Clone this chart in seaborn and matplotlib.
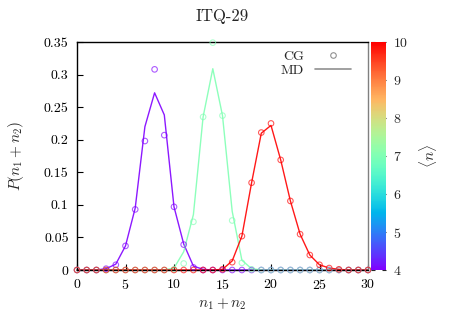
# Cluster size distribution for ITQ-29, CG points vs MD lines
import matplotlib

matplotlib.use("Agg", force=True)

import matplotlib.pyplot as plt
import seaborn as sns
import pandas as pd
import numpy as np
from matplotlib.lines import Line2D
from matplotlib.ticker import FuncFormatter

# data
n_sum = list(range(31))
mean_n = [4, 7, 10]

cg_4 = [0, 0, 0, 0.002, 0.008, 0.037, 0.093, 0.198, 0.308, 0.207, 0.097,
        0.039, 0.004] + [0] * 18
md_4 = [0, 0, 0, 0.002, 0.009, 0.037, 0.095, 0.220, 0.272, 0.238, 0.097,
        0.040, 0.006, 0.001] + [0] * 17

cg_7 = [0] * 10 + [0.001, 0.010, 0.074, 0.235, 0.349, 0.237, 0.076, 0.011,
                   0.001] + [0] * 12
md_7 = [0] * 10 + [0.003, 0.028, 0.085, 0.235, 0.309, 0.237, 0.090, 0.015,
                   0.002] + [0] * 12

cg_10 = [0] * 15 + [0.001, 0.012, 0.052, 0.134, 0.211, 0.225, 0.169, 0.106,
                    0.055, 0.023, 0.008, 0.003, 0.001, 0, 0, 0]
md_10 = [0] * 15 + [0.001, 0.014, 0.052, 0.134, 0.210, 0.222, 0.169, 0.106,
                    0.055, 0.023, 0.008, 0.003, 0.001, 0, 0, 0]


def long_form(series):
    frames = []
    for m, vals in zip(mean_n, series):
        frames.append(pd.DataFrame({"n": n_sum, "P": vals, "mean": m}))
    return pd.concat(frames, ignore_index=True)


cg = long_form([cg_4, cg_7, cg_10])
md = long_form([md_4, md_7, md_10])

sns.set_style("ticks")
plt.rcParams["font.family"] = "serif"
plt.rcParams["font.serif"] = ["cmr10"]
plt.rcParams["mathtext.fontset"] = "cm"
plt.rcParams["axes.formatter.use_mathtext"] = True
plt.rcParams["font.size"] = 10

fig = plt.figure(figsize=(4.5, 3.15), dpi=100)
ax = fig.add_axes([77 / 450, 45 / 315, 291 / 450, 228 / 315])

# MD as lines, CG as open circles, coloured by <n>
sns.lineplot(data=md, x="n", y="P", hue="mean", palette="rainbow",
             hue_norm=(4, 10), legend=False, lw=1.0, alpha=0.9, ax=ax,
             clip_on=False)
sns.scatterplot(data=cg, x="n", y="P", hue="mean", palette="rainbow",
                hue_norm=(4, 10), legend=False, s=16, marker="o", ax=ax,
                clip_on=False, zorder=3)
pts = ax.collections[-1]
fc = pts.get_facecolors()
fc[:, 3] = 0.65
pts.set_edgecolors(fc)
pts.set_facecolors("none")
pts.set_linewidths(0.8)

ax.set_xlim(0, 30)
ax.set_ylim(0, 0.35)
ax.set_xticks(range(0, 31, 5))
ax.set_yticks(np.arange(0, 0.351, 0.05))
ax.yaxis.set_major_formatter(FuncFormatter(lambda v, p: f"{v:g}"))
ax.tick_params(direction="in", length=4, width=0.8, top=False, right=False,
               colors="black", labelsize=10, pad=6)
for s in ["left", "top", "bottom"]:
    ax.spines[s].set_color("black")
    ax.spines[s].set_linewidth(1.0)
ax.spines["right"].set_color("#808080")
ax.spines["right"].set_linewidth(1.0)

ax.set_xlabel("$n_1+n_2$", fontsize=11, labelpad=3)
ax.set_ylabel("$P(n_1+n_2)$", fontsize=11, labelpad=13)
ax.set_title("ITQ-29", pad=15)

handles = [
    Line2D([], [], marker="o", ls="none", markerfacecolor="none",
           markeredgecolor="#909090", markersize=4, markeredgewidth=0.8),
    Line2D([], [], color="#909090", lw=1.2),
]
ax.legend(handles, ["CG", "MD"], loc="upper right", frameon=False,
          markerfirst=False, handlelength=2.6, handletextpad=0.8,
          labelspacing=0.1, borderaxespad=0.2, bbox_to_anchor=(0.97, 1.0))

# colorbar for <n>
cax = fig.add_axes([371 / 450, 45 / 315, 15 / 450, 228 / 315])
sm = plt.cm.ScalarMappable(cmap="rainbow", norm=plt.Normalize(4, 10))
cb = fig.colorbar(sm, cax=cax)
cb.set_ticks(range(4, 11))
cb.outline.set_visible(False)
cax.tick_params(direction="in", length=3, width=0.8, left=True, right=True,
                labelsize=10, pad=5)
cb.set_label(r"$\langle n \rangle$", fontsize=11, labelpad=6)

plt.savefig("out.png", dpi=100)
plt.close()
